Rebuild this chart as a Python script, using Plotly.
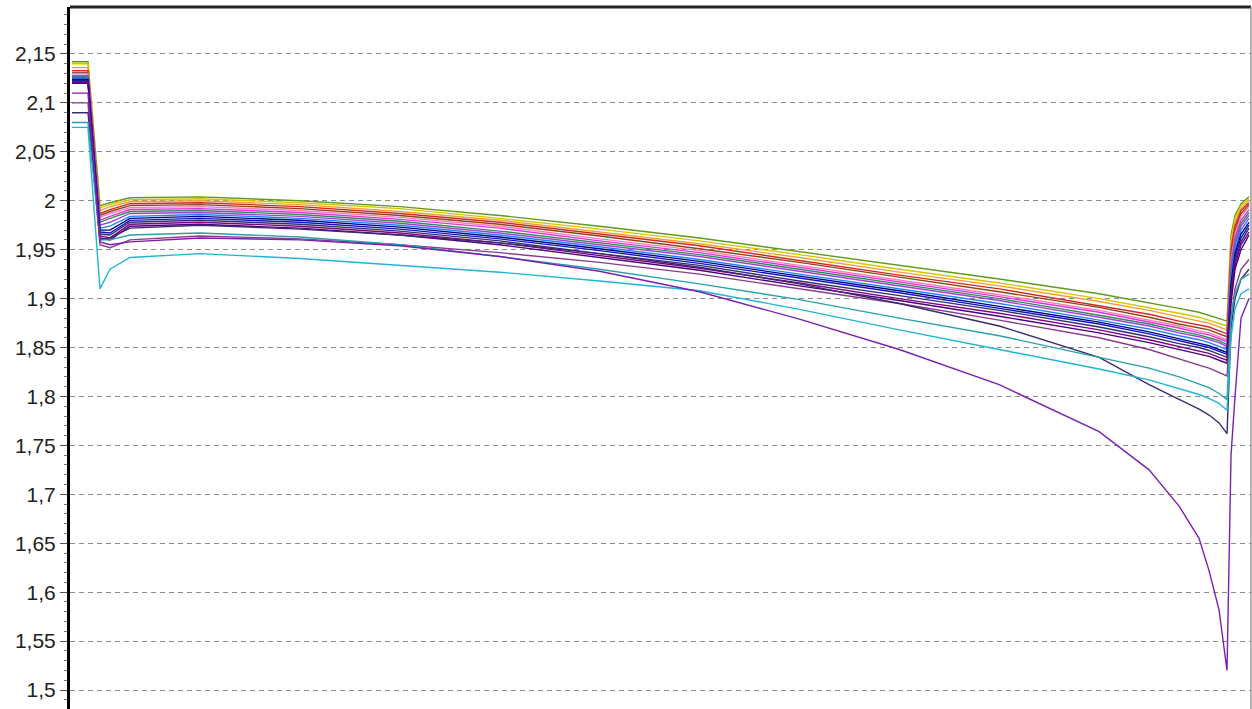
import plotly.graph_objects as go

# sample times (arbitrary units along the x axis)
time_pts = [0.2, 1.8, 3.0, 4.0, 6.0, 13, 23, 33, 43, 53, 63, 73, 83, 93, 103,
            108, 111, 113, 114, 115, 115.8, 116.2, 116.6, 117.2, 118]

v01 = [2.142, 2.142, 1.995, 1.998, 2.003, 2.004, 2.000, 1.994, 1.985, 1.974, 1.962, 1.948, 1.934, 1.920, 1.905, 1.896, 1.890, 1.886, 1.883, 1.880, 1.877, 1.965, 1.985, 1.997, 2.004]
v02 = [2.140, 2.140, 1.993, 1.996, 2.001, 2.002, 1.998, 1.992, 1.982, 1.971, 1.959, 1.945, 1.930, 1.916, 1.900, 1.891, 1.885, 1.881, 1.878, 1.875, 1.872, 1.960, 1.982, 1.995, 2.002]
v03 = [2.136, 2.136, 1.990, 1.994, 1.999, 2.000, 1.996, 1.989, 1.980, 1.968, 1.956, 1.942, 1.927, 1.913, 1.897, 1.888, 1.881, 1.877, 1.875, 1.871, 1.868, 1.955, 1.978, 1.992, 2.000]
v04 = [2.133, 2.133, 1.987, 1.991, 1.997, 1.998, 1.994, 1.987, 1.978, 1.966, 1.954, 1.939, 1.924, 1.910, 1.893, 1.884, 1.877, 1.873, 1.871, 1.867, 1.864, 1.950, 1.974, 1.990, 1.998]
v05 = [2.131, 2.131, 1.985, 1.989, 1.995, 1.996, 1.992, 1.985, 1.976, 1.964, 1.951, 1.937, 1.922, 1.907, 1.891, 1.881, 1.874, 1.870, 1.868, 1.864, 1.861, 1.945, 1.970, 1.987, 1.996]
v06 = [2.130, 2.130, 1.983, 1.987, 1.993, 1.994, 1.990, 1.983, 1.974, 1.961, 1.949, 1.934, 1.919, 1.904, 1.888, 1.878, 1.872, 1.867, 1.865, 1.861, 1.858, 1.940, 1.966, 1.984, 1.994]
v07 = [2.128, 2.128, 1.980, 1.984, 1.991, 1.992, 1.988, 1.981, 1.972, 1.959, 1.947, 1.932, 1.917, 1.902, 1.886, 1.876, 1.870, 1.865, 1.863, 1.859, 1.856, 1.935, 1.962, 1.980, 1.991]
v08 = [2.127, 2.127, 1.978, 1.982, 1.989, 1.990, 1.986, 1.979, 1.969, 1.957, 1.945, 1.930, 1.915, 1.900, 1.883, 1.874, 1.867, 1.863, 1.860, 1.857, 1.853, 1.930, 1.958, 1.977, 1.988]
v09 = [2.126, 2.126, 1.975, 1.978, 1.987, 1.988, 1.984, 1.977, 1.967, 1.955, 1.943, 1.928, 1.913, 1.898, 1.881, 1.872, 1.865, 1.861, 1.858, 1.855, 1.851, 1.925, 1.954, 1.974, 1.985]
v10 = [2.125, 2.125, 1.972, 1.974, 1.984, 1.986, 1.982, 1.975, 1.965, 1.953, 1.940, 1.925, 1.910, 1.895, 1.878, 1.869, 1.862, 1.858, 1.855, 1.851, 1.848, 1.920, 1.950, 1.970, 1.982]
v11 = [2.124, 2.124, 1.970, 1.970, 1.982, 1.984, 1.980, 1.973, 1.963, 1.951, 1.938, 1.923, 1.908, 1.892, 1.876, 1.866, 1.859, 1.855, 1.852, 1.848, 1.845, 1.915, 1.946, 1.966, 1.978]
v12 = [2.123, 2.123, 1.968, 1.967, 1.980, 1.982, 1.978, 1.971, 1.961, 1.949, 1.936, 1.921, 1.906, 1.890, 1.874, 1.864, 1.857, 1.853, 1.850, 1.846, 1.843, 1.910, 1.942, 1.962, 1.975]
v13 = [2.122, 2.122, 1.966, 1.965, 1.978, 1.980, 1.976, 1.969, 1.959, 1.946, 1.934, 1.918, 1.903, 1.888, 1.871, 1.861, 1.854, 1.850, 1.847, 1.843, 1.840, 1.905, 1.938, 1.958, 1.972]
v14 = [2.121, 2.121, 1.964, 1.962, 1.976, 1.978, 1.974, 1.967, 1.957, 1.944, 1.931, 1.916, 1.900, 1.885, 1.868, 1.858, 1.851, 1.847, 1.844, 1.840, 1.837, 1.900, 1.934, 1.955, 1.968]
v15 = [2.120, 2.120, 1.962, 1.960, 1.974, 1.976, 1.972, 1.965, 1.955, 1.942, 1.929, 1.913, 1.898, 1.882, 1.865, 1.855, 1.848, 1.844, 1.841, 1.837, 1.834, 1.895, 1.930, 1.950, 1.965]
v16 = [2.100, 2.100, 1.955, 1.952, 1.960, 1.964, 1.961, 1.955, 1.947, 1.937, 1.925, 1.910, 1.895, 1.878, 1.860, 1.848, 1.838, 1.832, 1.829, 1.825, 1.821, 1.880, 1.910, 1.930, 1.940]
v17 = [2.090, 2.090, 1.960, 1.962, 1.972, 1.975, 1.971, 1.965, 1.957, 1.946, 1.932, 1.915, 1.895, 1.872, 1.840, 1.812, 1.797, 1.787, 1.781, 1.773, 1.762, 1.870, 1.900, 1.920, 1.930]
v18 = [2.080, 2.080, 1.960, 1.960, 1.965, 1.967, 1.963, 1.955, 1.943, 1.930, 1.915, 1.899, 1.880, 1.862, 1.840, 1.829, 1.820, 1.813, 1.809, 1.803, 1.797, 1.880, 1.905, 1.920, 1.925]
v19 = [2.075, 2.075, 1.910, 1.930, 1.942, 1.946, 1.941, 1.934, 1.927, 1.918, 1.908, 1.889, 1.868, 1.848, 1.828, 1.817, 1.808, 1.802, 1.798, 1.793, 1.786, 1.860, 1.890, 1.905, 1.910]
v20 = [2.110, 2.110, 1.958, 1.955, 1.958, 1.962, 1.960, 1.954, 1.943, 1.928, 1.907, 1.879, 1.848, 1.812, 1.764, 1.725, 1.688, 1.655, 1.622, 1.582, 1.520, 1.740, 1.800, 1.880, 1.900]

series_values = [v01, v02, v03, v04, v05, v06, v07, v08, v09, v10,
                 v11, v12, v13, v14, v15, v16, v17, v18, v19, v20]
series_colors = ["#5f9a1e", "#d8c400", "#f0a030", "#d02828", "#8b4513",
                 "#ff78b8", "#e030e0", "#2e8b57", "#a040d0", "#2080ff",
                 "#000080", "#1010c8", "#303070", "#800080", "#4b0082",
                 "#8b3a8b", "#3b2a70", "#2aa0a8", "#22b4d4", "#7b1fb0"]

y_tick_vals = [1.5, 1.55, 1.6, 1.65, 1.7, 1.75, 1.8, 1.85, 1.9, 1.95, 2.0, 2.05, 2.1, 2.15]
y_tick_text = ["1,5", "1,55", "1,6", "1,65", "1,7", "1,75", "1,8", "1,85", "1,9", "1,95", "2", "2,05", "2,1", "2,15"]

fig = go.Figure()
for vals, col in zip(series_values, series_colors):
    fig.add_trace(go.Scatter(x=time_pts, y=vals, mode="lines",
                             line=dict(color=col, width=1.4), showlegend=False,
                             hoverinfo="skip"))

fig.update_layout(
    width=1252, height=709,
    margin=dict(l=70, r=1, t=7, b=0),
    paper_bgcolor="white", plot_bgcolor="white",
    font=dict(family="Liberation Sans, Arial, sans-serif", size=21, color="#222"),
    showlegend=False,
)
fig.update_xaxes(range=[0, 118.2], showgrid=False, showticklabels=False,
                 ticks="", zeroline=False, showline=False, automargin=False)
fig.update_yaxes(range=[1.4806, 2.198], tickvals=y_tick_vals, ticktext=y_tick_text,
                 automargin=False,
                 showgrid=True, gridcolor="#8a8a8a", gridwidth=1, griddash="5px,4px",
                 zeroline=False, showline=True, linecolor="black", linewidth=3,
                 ticks="outside", ticklen=7, tickcolor="#555", tickwidth=1,
                 minor=dict(ticks="outside", dtick=0.01, tick0=1.5, ticklen=3,
                            tickcolor="#777", showgrid=False))

fig.add_shape(type="line", xref="paper", yref="paper", x0=0, x1=1, y0=1, y1=1,
              line=dict(color="#222", width=3))
fig.add_shape(type="line", xref="paper", yref="paper", x0=1, x1=1, y0=0, y1=1,
              line=dict(color="#999", width=1.5))

fig.write_html("out.html", config={"displayModeBar": False},
               post_script="document.body.style.margin='0';document.body.style.overflow='hidden';")
